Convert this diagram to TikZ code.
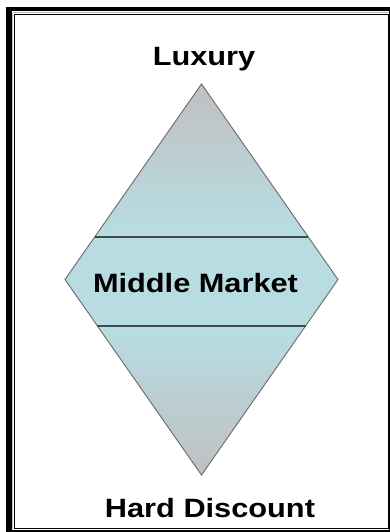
\documentclass[tikz,border=0pt]{standalone}
\usepackage{fontspec}
\newfontfamily\labelfont{Liberation Sans}[FakeStretch=1.16]
\usepackage{tikz}
\usetikzlibrary{calc}
\definecolor{apexgray}{RGB}{192,192,193}
\definecolor{midcyan}{RGB}{183,221,227}
\definecolor{edgegray}{RGB}{105,105,105}
\definecolor{bandline}{RGB}{64,74,80}
\tikzset{
  tierlabel/.style={anchor=base, inner sep=0pt, font=\labelfont\bfseries\fontsize{26.5}{30}\selectfont},
  diamondedge/.style={draw=edgegray, line width=0.9pt, line join=miter},
  bandrule/.style={draw=bandline, line width=1.4pt}
}
\begin{document}
\begin{tikzpicture}[x=1pt, y=-1pt]
    \useasboundingbox (0,0) rectangle (390,532);
    % frame
    \fill[white] (0,0) rectangle (390,532);
    \fill[black] (6,7) rectangle (11.5,532);
    \fill[black] (6,7) rectangle (390,11.5);
    \fill[black] (6,529.8) rectangle (390,532);
    \fill[black] (389,7) rectangle (390,532);
    \draw[gray!55, line width=1pt] (12.6,12.6) -- (12.6,529) (12.6,12.6) -- (389,12.6);
    \draw[black, line width=0.9pt] (14.2,14.8) rectangle (388.4,528.2);
    % diamond corners
    \coordinate (top) at (201.5,84);
    \coordinate (left) at (65,279.5);
    \coordinate (right) at (338,279.5);
    \coordinate (bot) at (201.5,475);
    \coordinate (ul) at ($(top)!0.7826!(left)$);
    \coordinate (ur) at ($(top)!0.7826!(right)$);
    \coordinate (ll) at ($(left)!0.2379!(bot)$);
    \coordinate (lr) at ($(right)!0.2379!(bot)$);
    % fills
    \shade[top color=apexgray, bottom color=midcyan] (top) -- (ur) -- (ul) -- cycle;
    \fill[midcyan] (ul) -- (ur) -- (right) -- (lr) -- (ll) -- (left) -- cycle;
    \shade[top color=midcyan, bottom color=apexgray] (ll) -- (lr) -- (bot) -- cycle;
    \draw[diamondedge] (top) -- (right) -- (bot) -- (left) -- cycle;
    \draw[bandrule] (ul) -- (ur);
    \draw[bandrule] (ll) -- (lr);
    % labels
    \node[tierlabel] (luxury) at (204,66) {Luxury};
    \node[tierlabel] (middle) at (195.5,292) {Middle Market};
    \node[tierlabel] (discount) at (210,517) {Hard Discount};
\end{tikzpicture}
\end{document}
